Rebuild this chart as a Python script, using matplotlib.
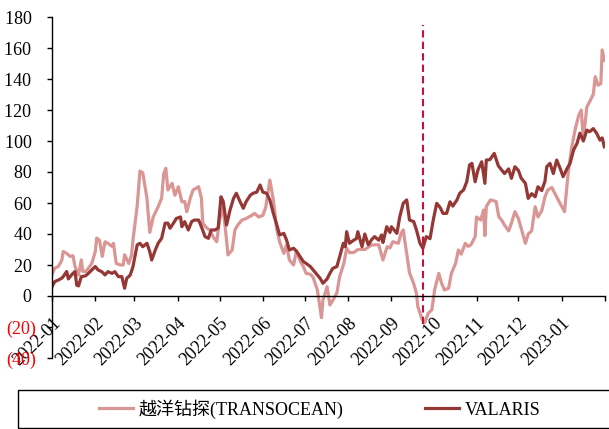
import matplotlib
matplotlib.use("Agg")
import matplotlib.pyplot as plt
from matplotlib.patches import Rectangle
import pandas as pd

plt.rcParams['font.family'] = ['Liberation Serif', 'Noto Sans CJK SC']

START = pd.Timestamp('2022-01-01')

# Share-price change since the start of 2022 (%), sampled by days since START
tr_days = [0, 2, 4.5, 7, 8, 10.5, 13, 15, 16.5, 19,
           21, 22, 24, 26, 28.5, 31, 32, 34, 36, 38,
           40, 43, 44, 46, 49, 51, 52, 55, 57, 58,
           61, 63, 65, 68, 70, 72.5, 76, 78.5, 80, 81.5,
           83, 86, 88, 90.5, 93, 95, 96.5, 99, 101, 105,
           107, 108, 111, 113, 115.5, 118, 120, 122.5, 125, 126,
           129, 131, 133, 136, 139, 143, 145, 148, 151, 153,
           156, 158.5, 161, 163, 166, 168, 170, 173, 175, 178,
           180, 182, 185, 187, 190, 192, 193, 194, 197, 199,
           201, 204, 206, 209, 211, 213, 216, 219, 224, 229,
           234, 237, 240, 242, 244, 248, 250, 251.5, 254, 256,
           259, 261, 262, 265, 267, 269.5, 272, 274, 277, 279,
           281, 284, 286, 289, 291, 293, 296, 298, 300, 303,
           304, 307, 309, 310, 311, 314, 318, 320, 322, 324,
           327, 329, 331.5, 334, 336, 339, 341, 343.5, 346, 348,
           350.7, 353, 355, 358, 360, 362.5, 365, 367, 369.7, 372,
           374.5, 377, 379, 380.5, 383, 385, 387.6, 389, 391, 393,
           394, 395.5]
tr_vals = [14, 18, 19, 23, 28.7, 27.5, 25.5, 26, 19, 13.6,
           23.3, 16, 15.8, 17.8, 21, 28.7, 37.4, 36, 25.5, 35,
           34, 32, 34, 21, 20, 20, 26.6, 21, 26.6, 36.3,
           58, 80.6, 79.5, 63, 41, 51, 57.6, 63, 79, 82.4,
           68.4, 72.7, 65, 70.5, 60.8, 61, 54.4, 63, 68.4, 70.5,
           63, 47, 43.7, 42.6, 38, 35, 49, 57.6, 36, 26.5,
           29.7, 42.6, 45.8, 49, 50, 52, 53.3, 51, 52, 57,
           74.8, 62, 42.6, 35, 27.5, 33, 23.2, 20, 29, 22,
           19, 14.6, 14, 12, 4, -8, -14, -2.6, 6, -5.8,
           -3, 2, 12.5, 21, 30.8, 28, 28, 30, 30, 33,
           33, 23.2, 31.8, 31, 35, 34, 40.4, 42.6, 27.5, 15,
           8, 1.7, -7, -15, -17, -11, -9, 4, 14.6, 8.2,
           3.9, 5, 14.6, 21, 29.7, 27, 34, 32, 33, 38.3,
           51, 49, 55.5, 39, 57.6, 62, 61, 51, 49, 45.8,
           42, 47, 54.4, 50, 43.7, 34, 40, 42, 57.6, 51,
           55, 64, 68.4, 70, 66.3, 62, 57.6, 54.4, 80, 95,
           107, 116, 120, 101, 122, 125.4, 130, 141.5, 136, 137,
           158.7, 152]

va_days = [0, 2, 4.5, 7, 8, 10.5, 11.7, 13, 15, 16.5,
           17.7, 19, 21, 24, 26, 28.5, 31, 33, 35.6, 38,
           40, 43, 45, 47.5, 50, 52, 53.5, 56, 58, 61,
           63, 65, 68, 70, 71.4, 74, 76, 78.5, 81, 83,
           84.5, 87, 89, 92, 93, 95, 97.6, 100, 102, 105,
           107, 109.6, 112, 114, 117, 119, 121, 122.6, 125, 127.5,
           130, 132, 134.6, 137, 139, 142, 144, 146.6, 149, 151,
           153.6, 156, 158.5, 161, 163, 166, 168, 170, 173, 175,
           177.6, 180, 182, 185, 187, 189.5, 192, 194, 197, 199,
           201, 204, 206, 208.6, 210, 211, 213, 216, 218, 219,
           222, 224, 226.5, 229, 231, 234, 236, 237, 239.7, 242,
           243, 247, 249, 251.5, 254, 256, 259, 261, 263.5, 265.6,
           268, 270.7, 273, 275.5, 278, 280, 282.6, 285, 287, 290,
           292, 294.7, 297, 299, 300.7, 303, 305, 307.7, 310, 311,
           313.6, 316.7, 319.6, 322, 324, 327, 329, 331.5, 334, 336,
           339, 341, 343.5, 346, 348, 350.7, 353, 354.3, 356.6, 359,
           361.4, 364, 366, 368.7, 371, 373.5, 376, 378, 380.5, 383,
           385, 387.6, 390, 392.4, 394, 395.5]
va_vals = [6, 9.3, 10.3, 11.5, 12.5, 15.8, 11, 12.5, 14.6, 15.8,
           7, 6.5, 12.5, 13, 14.6, 16.8, 19, 16.8, 15.7, 13.6,
           15.7, 14.6, 15.7, 12.5, 12.5, 5, 11.4, 13.5, 19, 33,
           34, 31.8, 34, 28.6, 23.2, 29.7, 34, 37.2, 47, 47,
           43.7, 47, 50, 51, 44.7, 48, 42.6, 48, 49, 49,
           44.7, 38.3, 37.2, 42.6, 42.6, 44, 64, 61, 45.8, 55.5,
           63, 66.3, 61, 56.6, 60.8, 65, 66.3, 67, 71.6, 67,
           66.3, 62, 53.3, 45.8, 39.4, 40.4, 36, 29.7, 30.8, 29,
           25.4, 22.2, 21, 19, 16.8, 14, 11.4, 8.2, 11, 14.6,
           17.8, 19, 25.4, 34, 31.8, 41.5, 34, 36, 37, 41.5,
           31.8, 40, 33, 36.5, 38.3, 36, 39.4, 34.5, 44.7, 41,
           44.7, 40.4, 51, 59.8, 62, 49, 48, 42.6, 34, 30.8,
           38.3, 37, 49, 59.8, 57, 53.3, 53.3, 60.8, 58, 62,
           66.3, 68.4, 73.7, 84.5, 85.6, 73.7, 81.3, 86.6, 72.7, 87.7,
           88, 92, 84, 81.3, 79, 82, 75.9, 83.4, 81, 76,
           72.7, 63, 66, 64, 70.5, 68, 74, 83.4, 85.6, 79,
           87.7, 82, 77, 82, 85.6, 94.2, 98.5, 105, 100, 107,
           106, 108, 105, 100.6, 102, 96.3]

series_names = ['越洋钻探(TRANSOCEAN)', 'VALARIS']
marker_date = '2022-09-24'
marker_span = [-18, 175]

y_ticks = list(range(-40, 181, 20))
y_labels = ['(40)', '(20)'] + [f'{v} ' for v in y_ticks[2:]]
month_ticks = pd.date_range('2022-01-01', '2023-02-01', freq='MS')
month_labels = [d.strftime('%Y-%m') for d in month_ticks[:-1]] + ['']

C_TR = '#D99694'
C_VA = '#953735'
C_MARK = '#C0143C'


def to_dates(days):
    return START + pd.to_timedelta(days, unit='D')


fig = plt.figure(figsize=(6.09, 4.29), dpi=100)
ax = fig.add_axes([52 / 609, 71 / 429, 553 / 609, 341 / 429])

ax.plot(to_dates(tr_days), tr_vals, color=C_TR, lw=2.3, label=series_names[0],
        solid_joinstyle='round')
ax.plot(to_dates(va_days), va_vals, color=C_VA, lw=2.3, label=series_names[1],
        solid_joinstyle='round')
md = pd.Timestamp(marker_date)
ax.plot([md, md], marker_span, color=C_MARK, lw=1.5, dashes=(3.5, 2))

ax.set_xlim(month_ticks[0], month_ticks[-1])
ax.set_ylim(-40, 180)
ax.set_yticks(y_ticks)
ax.set_yticklabels(y_labels)
ax.set_xticks(month_ticks)
ax.set_xticklabels(month_labels)

for side in ('top', 'right'):
    ax.spines[side].set_visible(False)
ax.spines['bottom'].set_position(('data', 0))
for side in ('left', 'bottom'):
    ax.spines[side].set_linewidth(1.0)
    ax.spines[side].set_color('black')

ax.tick_params(axis='x', direction='out', length=3.6, width=1.0, pad=10,
               labelsize=13, labelrotation=45)
ax.tick_params(axis='y', direction='out', length=3.6, width=1.0, pad=8,
               labelsize=13)

for lbl in ax.get_xticklabels():
    lbl.set_horizontalalignment('right')
    lbl.set_verticalalignment('top')
    lbl.set_rotation_mode('anchor')
for lbl, v in zip(ax.get_yticklabels(), y_ticks):
    lbl.set_color('red' if v < 0 else 'black')

# legend frame along the bottom of the figure
fig.patches.append(Rectangle((18 / 609, 1 / 429), 600 / 609, 38 / 429,
                             transform=fig.transFigure, fill=False,
                             edgecolor='black', lw=1.0))
fig.legend(loc='center left', bbox_to_anchor=(99 / 609, 20 / 429),
           ncol=2, frameon=False, fontsize=13, borderpad=0, borderaxespad=0,
           handlelength=1.9, handletextpad=0.3, columnspacing=4.5)

fig.savefig('out.png', dpi=100)
